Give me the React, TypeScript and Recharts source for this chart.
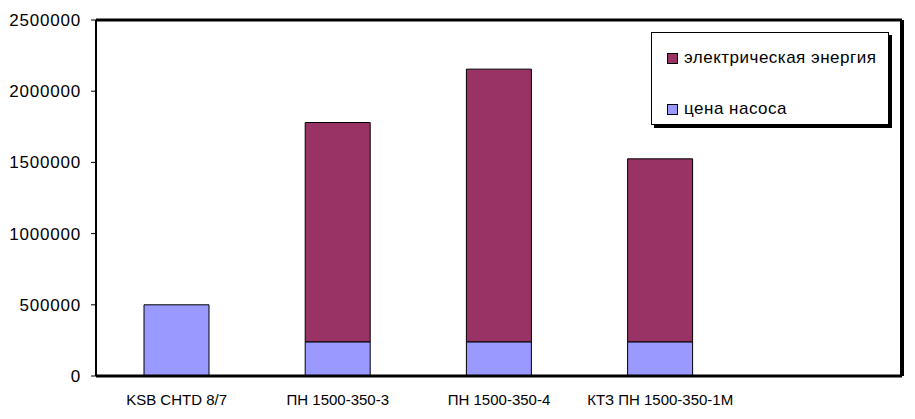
import React from "react";
import { BarChart, Bar, XAxis, YAxis, CartesianGrid } from "recharts";

const categories = ["KSB CHTD 8/7", "ПН 1500-350-3", "ПН 1500-350-4", "КТЗ ПН 1500-350-1М", ""];
const pumpPrice = [500000, 240000, 240000, 240000, null];
const energy = [null, 1540000, 1915000, 1285000, null];
const yTicks = [0, 500000, 1000000, 1500000, 2000000, 2500000];

const seriesNames = { energy: "электрическая энергия", pump: "цена насоса" };
const colors = { energy: "#993366", pump: "#9999FF" };

const data = categories.map((c, i) => ({ name: c, pump: pumpPrice[i], energy: energy[i] }));

const FONT = "'Liberation Sans', Arial, sans-serif";

const LegendBox = () => {
  const items = [
    { key: "energy", label: seriesNames.energy, color: colors.energy },
    { key: "pump", label: seriesNames.pump, color: colors.pump },
  ];
  return (
    <div
      style={{
        position: "absolute",
        left: 643,
        top: 24,
        width: 238,
        height: 93,
        border: "1px solid #000",
        boxShadow: "3px 3px 0 #000",
        background: "#fff",
        fontFamily: FONT,
        fontSize: 17,
        color: "#000",
        boxSizing: "border-box",
      }}
    >
      {items.map((it, i) => (
        <div
          key={it.key}
          style={{
            position: "absolute",
            left: 15,
            top: i === 0 ? 15 : 66,
            display: "flex",
            alignItems: "center",
            height: 20,
            whiteSpace: "nowrap",
          }}
        >
          <span
            style={{
              display: "inline-block",
              width: 9,
              height: 9,
              background: it.color,
              border: "1px solid #000",
              marginRight: 6,
            }}
          />
          <span style={{ letterSpacing: 0.5 }}>{it.label}</span>
        </div>
      ))}
    </div>
  );
};

export default function App() {
  return (
    <div style={{ position: "relative", width: 907, height: 411 }}>
      <BarChart
        width={907}
        height={411}
        data={data}
        margin={{ top: 12, right: 13, left: 0, bottom: 13 }}
        barSize={65}
      >
        <CartesianGrid
          vertical={false}
          horizontalCoordinatesGenerator={({ offset }: any) => [offset.top]}
          stroke="#000"
          strokeWidth={3}
        />
        <CartesianGrid
          horizontal={false}
          verticalCoordinatesGenerator={({ offset }: any) => [offset.left + offset.width]}
          stroke="#000"
          strokeWidth={4}
        />
        <XAxis
          dataKey="name"
          interval={0}
          tickLine={false}
          tickSize={0}
          tickMargin={18}
          height={30}
          axisLine={{ stroke: "#000", strokeWidth: 3 }}
          tick={{ fill: "#000", fontSize: 15, fontFamily: FONT }}
        />
        <YAxis
          width={88}
          domain={[0, 2500000]}
          ticks={yTicks}
          interval={0}
          tickSize={5}
          tickMargin={10}
          axisLine={{ stroke: "#000", strokeWidth: 2 }}
          tickLine={{ stroke: "#000", strokeWidth: 1 }}
          tick={{ fill: "#000", fontSize: 17, fontFamily: FONT, letterSpacing: 0.8 }}
        />
        <Bar dataKey="pump" name={seriesNames.pump} stackId="a" fill={colors.pump} stroke="#000" strokeWidth={1} isAnimationActive={false} />
        <Bar dataKey="energy" name={seriesNames.energy} stackId="a" fill={colors.energy} stroke="#000" strokeWidth={1} isAnimationActive={false} />
      </BarChart>
      <LegendBox />
    </div>
  );
}
